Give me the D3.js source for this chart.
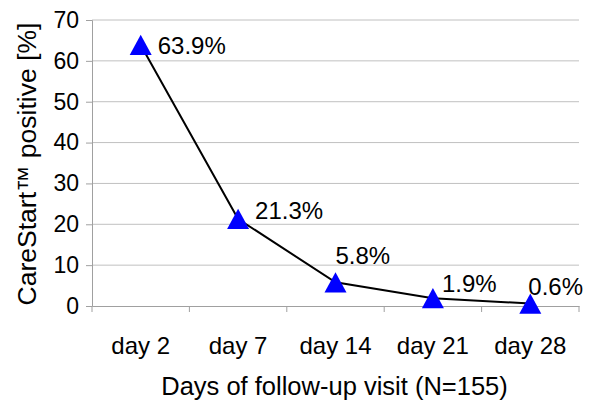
<!DOCTYPE html>
<html>
<head>
<meta charset="utf-8">
<script src="https://cdn.jsdelivr.net/npm/d3@7"></script>
<style>
  body { margin: 0; background: #fff; }
  text { font-family: "Liberation Sans", Arial, sans-serif; fill: #000; }
</style>
</head>
<body>
<div id="chart"></div>
<script>
// data
var days = ["day 2", "day 7", "day 14", "day 21", "day 28"];
var positive = [63.9, 21.3, 5.8, 1.9, 0.6];
var valueLabels = ["63.9%", "21.3%", "5.8%", "1.9%", "0.6%"];
var yTicks = [0, 10, 20, 30, 40, 50, 60, 70];

// label nudges (px from the marker), placed by hand in the original
var labelNudge = [[17, 9], [17, 0], [0, -18], [9, -6], [-2, -9]];

var W = 600, H = 410;
var margin = {top: 20, right: 21, bottom: 104, left: 92},
  width = W - margin.left - margin.right,
  height = H - margin.top - margin.bottom;

var svg = d3.select("#chart")
  .append("svg")
  .attr("width", W)
  .attr("height", H)
.append("g")
  .attr("transform", "translate(" + margin.left + "," + margin.top + ")");

var x = d3.scaleBand()
  .domain(days)
  .range([0, width]);

var y = d3.scaleLinear()
  .domain([0, 70])
  .range([height, 0]);

// gridlines
svg.selectAll(".grid")
  .data(yTicks.filter(function(d) { return d > 0; }))
  .enter()
  .append("line")
    .attr("x1", 0)
    .attr("x2", width)
    .attr("y1", function(d) { return y(d); })
    .attr("y2", function(d) { return y(d); })
    .style("stroke", "#c0c0c0")
    .style("stroke-width", 1);

// y axis
var yAxis = svg.append("g")
  .call(d3.axisLeft(y).tickValues(yTicks).tickSize(6).tickPadding(7));
yAxis.select(".domain").style("stroke", "#a0a0a0");
yAxis.selectAll(".tick line").style("stroke", "#a0a0a0");
yAxis.selectAll(".tick text")
  .style("font-size", "23px")
  .style("font-family", "Liberation Sans, Arial, sans-serif");

// x axis: labels centred in bands, ticks on band edges
var xAxis = svg.append("g")
  .attr("transform", "translate(0," + height + ")")
  .call(d3.axisBottom(x).tickSize(0).tickPadding(31));
xAxis.select(".domain").style("stroke", "#a0a0a0");
xAxis.selectAll(".tick text")
  .style("font-size", "24px")
  .style("font-family", "Liberation Sans, Arial, sans-serif");

var edges = d3.range(0, days.length + 1);
var edgeScale = d3.scaleLinear().domain([0, days.length]).range([0, width]);
svg.selectAll(".edge")
  .data(edges)
  .enter()
  .append("line")
    .attr("x1", function(d) { return edgeScale(d); })
    .attr("x2", function(d) { return edgeScale(d); })
    .attr("y1", height)
    .attr("y2", height + 6)
    .style("stroke", "#a0a0a0");

// line
var pts = days.map(function(d, i) { return [x(d) + x.bandwidth() / 2, y(positive[i])]; });
svg.append("path")
  .datum(pts)
  .attr("d", d3.line())
  .style("fill", "none")
  .style("stroke", "#000")
  .style("stroke-width", 2);

// triangle centred on its bounding box, like the spreadsheet marker
var boxTriangle = {
  draw: function(context, size) {
    var s = Math.sqrt(size);
    var h = s * 0.92;
    context.moveTo(0, -h / 2);
    context.lineTo(s / 2, h / 2);
    context.lineTo(-s / 2, h / 2);
    context.closePath();
  }
};

svg.selectAll(".marker")
  .data(pts)
  .enter()
  .append("path")
    .attr("d", d3.symbol().type(boxTriangle).size(22 * 22))
    .attr("transform", function(d) { return "translate(" + d[0] + "," + d[1] + ")"; })
    .style("fill", "#0000ff");

// data labels
svg.selectAll(".vlabel")
  .data(pts)
  .enter()
  .append("text")
    .attr("x", function(d, i) { return d[0] + labelNudge[i][0]; })
    .attr("y", function(d, i) { return d[1] + labelNudge[i][1]; })
    .style("font-size", "24px")
    .text(function(d, i) { return valueLabels[i]; });

// axis titles
svg.append("text")
  .attr("x", width / 2 - 1)
  .attr("y", height + 89)
  .style("text-anchor", "middle")
  .style("font-size", "25.5px")
  .text("Days of follow-up visit (N=155)");

svg.append("text")
  .attr("transform", "translate(" + (-56) + "," + (height / 2 + 1) + ") rotate(-90)")
  .style("text-anchor", "middle")
  .style("font-size", "26.5px")
  .text("CareStart\u2122 positive [%]");
</script>
</body>
</html>
